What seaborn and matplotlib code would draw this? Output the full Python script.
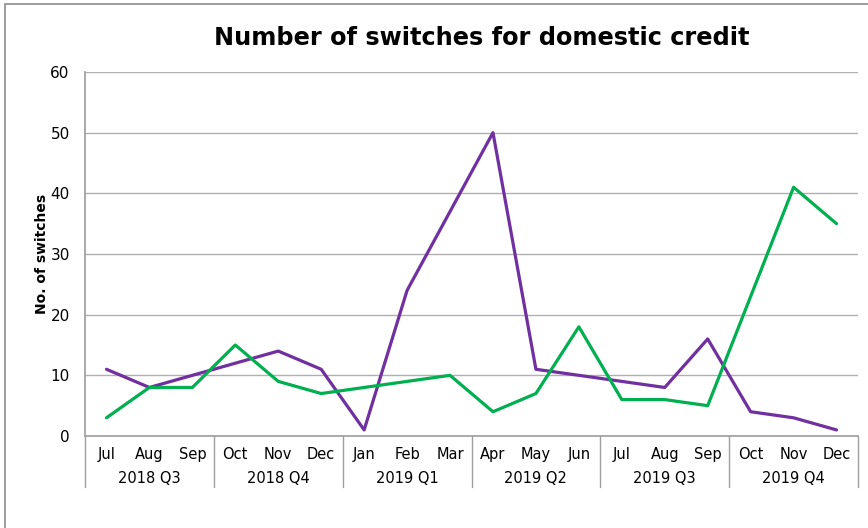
import numpy as np
import pandas as pd
import matplotlib
matplotlib.use("Agg")
import matplotlib.pyplot as plt
import matplotlib.transforms as mtransforms
from matplotlib.patches import Rectangle
import seaborn as sns

# chart data
months = ["Jul", "Aug", "Sep", "Oct", "Nov", "Dec",
          "Jan", "Feb", "Mar", "Apr", "May", "Jun",
          "Jul", "Aug", "Sep", "Oct", "Nov", "Dec"]
quarters = ["2018 Q3", "2018 Q4", "2019 Q1", "2019 Q2", "2019 Q3", "2019 Q4"]
purpleValues = [11, 8, 10, 12, 14, 11, 1, 24, 37, 50, 11, 10, 9, 8, 16, 4, 3, 1]
greenValues = [3, 8, 8, 15, 9, 7, 8, 9, 10, 4, 7, 18, 6, 6, 5, 23, 41, 35]
seriesNames = ["series 1", "series 2"]
seriesColors = ["#7030A0", "#00B050"]
titleText = "Number of switches for domestic credit"
yLabel = "No. of switches"

# long form table for seaborn
observations = []
for name, values in zip(seriesNames, [purpleValues, greenValues]):
    for i, v in enumerate(values):
        observations.append({"pos": i, "value": v, "series": name})
df = pd.DataFrame(observations)

sns.set_theme(style="white")
plt.rcParams["font.family"] = ["DejaVu Sans"]
plt.rcParams["text.color"] = "#000000"
plt.rcParams["axes.labelcolor"] = "#000000"

fig = plt.figure(figsize=(8.68, 5.28), dpi=100)
ax = fig.add_axes([85 / 868, 1 - 436 / 528, (858 - 85) / 868, (436 - 72) / 528])

# outer frame
fig.patches.append(Rectangle((5 / 868, -0.1), 1.2, 1 - 4 / 528 + 0.1, transform=fig.transFigure,
                             fill=False, edgecolor="#8c8c8c", linewidth=1.2, zorder=0))

sns.lineplot(data=df, x="pos", y="value", hue="series", palette=seriesColors,
             linewidth=2.3, legend=False, ax=ax, zorder=3)

ax.set_xlim(-0.5, len(months) - 0.5)
ax.set_ylim(0, 60)
ax.set_yticks(range(0, 61, 10))
ax.yaxis.grid(True, color="#b0b0b0", linewidth=1)
ax.set_axisbelow(True)
ax.tick_params(axis="y", length=0, labelsize=11, pad=11, colors="#000000")
for s in ["top", "right"]:
    ax.spines[s].set_visible(False)
ax.spines["left"].set_color("#a0a0a0")
ax.spines["bottom"].set_color("#a0a0a0")

ax.set_xticks(range(len(months)))
ax.set_xticklabels(months)
ax.tick_params(axis="x", length=0, labelsize=10.5, pad=8, colors="#000000")
ax.set_xlabel("")
ax.set_ylabel(yLabel, fontsize=10, fontweight="bold", labelpad=0, color="#000000")
ax.yaxis.set_label_coords(-0.047, 0.5)

# quarter labels and separators
trans = mtransforms.blended_transform_factory(ax.transData, ax.transAxes)
for q, name in enumerate(quarters):
    ax.text(q * 3 + 1, -0.118, name, transform=trans, ha="center", va="center",
            fontsize=10.5, color="#000000")
for q in range(len(quarters) + 1):
    ax.plot([q * 3 - 0.5, q * 3 - 0.5], [0, -0.14], transform=trans,
            color="#a0a0a0", linewidth=1, clip_on=False)

fig.text(482 / 868, 1 - 38 / 528, titleText, ha="center", va="center",
         fontsize=17.3, fontweight="bold", color="#000000")

fig.savefig("out.png", dpi=100)
